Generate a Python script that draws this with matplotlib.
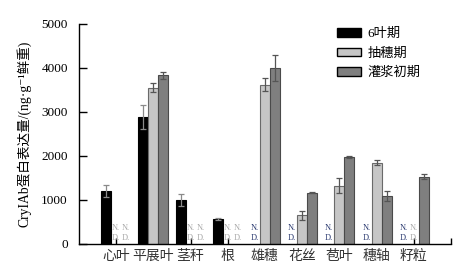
import matplotlib
matplotlib.use("Agg")
import matplotlib.pyplot as plt
import matplotlib.patches as mpatches
import numpy as np

plt.rcParams['font.family'] = ['Liberation Serif', 'Noto Sans CJK SC', 'DejaVu Sans']

categories = ['心叶', '平展叶', '茎秆', '根', '雄穗', '花丝', '苞叶', '穗轴', '籽粒']
series_names = ['6叶期', '抽穗期', '灌浆初期']
# np.nan = not detected (N.D.)
v6 = [1200, 2890, 1000, 570, np.nan, np.nan, np.nan, np.nan, np.nan]
e6 = [140, 270, 130, 30, 0, 0, 0, 0, 0]
vh = [np.nan, 3550, np.nan, np.nan, 3620, 650, 1320, 1850, np.nan]
eh = [0, 100, 0, 0, 150, 100, 170, 50, 0]
vg = [np.nan, 3830, np.nan, np.nan, 4000, 1170, 1980, 1090, 1530]
eg = [0, 80, 0, 0, 300, 20, 30, 110, 50]
yticks = [0, 1000, 2000, 3000, 4000, 5000]

W, H = 467, 270
fig = plt.figure(figsize=(W/100, H/100), dpi=100)
ax = fig.add_axes([79/W, 26/H, (451-79)/W, (244-24)/H])

colors = ['#000000', '#c6c6c6', '#7f7f7f']
edges = ['#000000', '#6a6a6a', '#4a4a4a']
ecols = ['#8a8a8a', '#555555', '#555555']
bw = 0.27
x = np.arange(1, len(categories)+1)
data = [(v6, e6), (vh, eh), (vg, eg)]
for k, (vals, errs) in enumerate(data):
    off = (k-1)*bw
    vals_a = np.array(vals, dtype=float)
    mask = ~np.isnan(vals_a)
    ax.bar(x[mask]+off, vals_a[mask], width=bw, color=colors[k],
           edgecolor=edges[k], linewidth=0.8, zorder=2)
    ax.errorbar(x[mask]+off, vals_a[mask], yerr=np.array(errs)[mask],
                fmt='none', ecolor=ecols[k], elinewidth=0.9, capsize=2.5,
                capthick=0.9, zorder=3)
    for i in np.where(~mask)[0]:
        c = '#2b3a70' if k == 0 else '#a9a9a9'
        ax.text(x[i]+off-bw/2+0.02, 40, 'N.\nD.', fontsize=6, color=c,
                ha='left', va='bottom', linespacing=1.4, zorder=4,
                family='Liberation Serif')

ax.set_xlim(0, 10)
ax.set_ylim(0, 5000)
ax.set_yticks(yticks)
ax.set_yticklabels([str(t) for t in yticks])
ax.set_xticks(list(x) + [10])
ax.set_xticklabels(categories + [''])
ax.tick_params(axis='y', direction='in', length=6, width=1, pad=8, labelsize=9.5)
ax.tick_params(axis='x', direction='in', length=4, width=1, pad=4, labelsize=10)
for lbl in ax.get_xticklabels():
    lbl.set_color('#333333')
for s in ['top', 'right']:
    ax.spines[s].set_visible(False)
for s in ['left', 'bottom']:
    ax.spines[s].set_linewidth(1.0)

ax.set_ylabel('CryIAb蛋白表达量/(ng·g⁻¹鲜重)', fontsize=9.8, labelpad=7)

handles = [mpatches.Patch(facecolor=colors[k], edgecolor='#000000', linewidth=1.0,
                          label=series_names[k]) for k in range(3)]
leg = ax.legend(handles=handles, loc='upper left', bbox_to_anchor=(246/372, 1.035),
                frameon=False, fontsize=9.5, handlelength=1.8, handleheight=0.6,
                labelspacing=0.55, handletextpad=0.5)

fig.savefig('out.png', dpi=100)
